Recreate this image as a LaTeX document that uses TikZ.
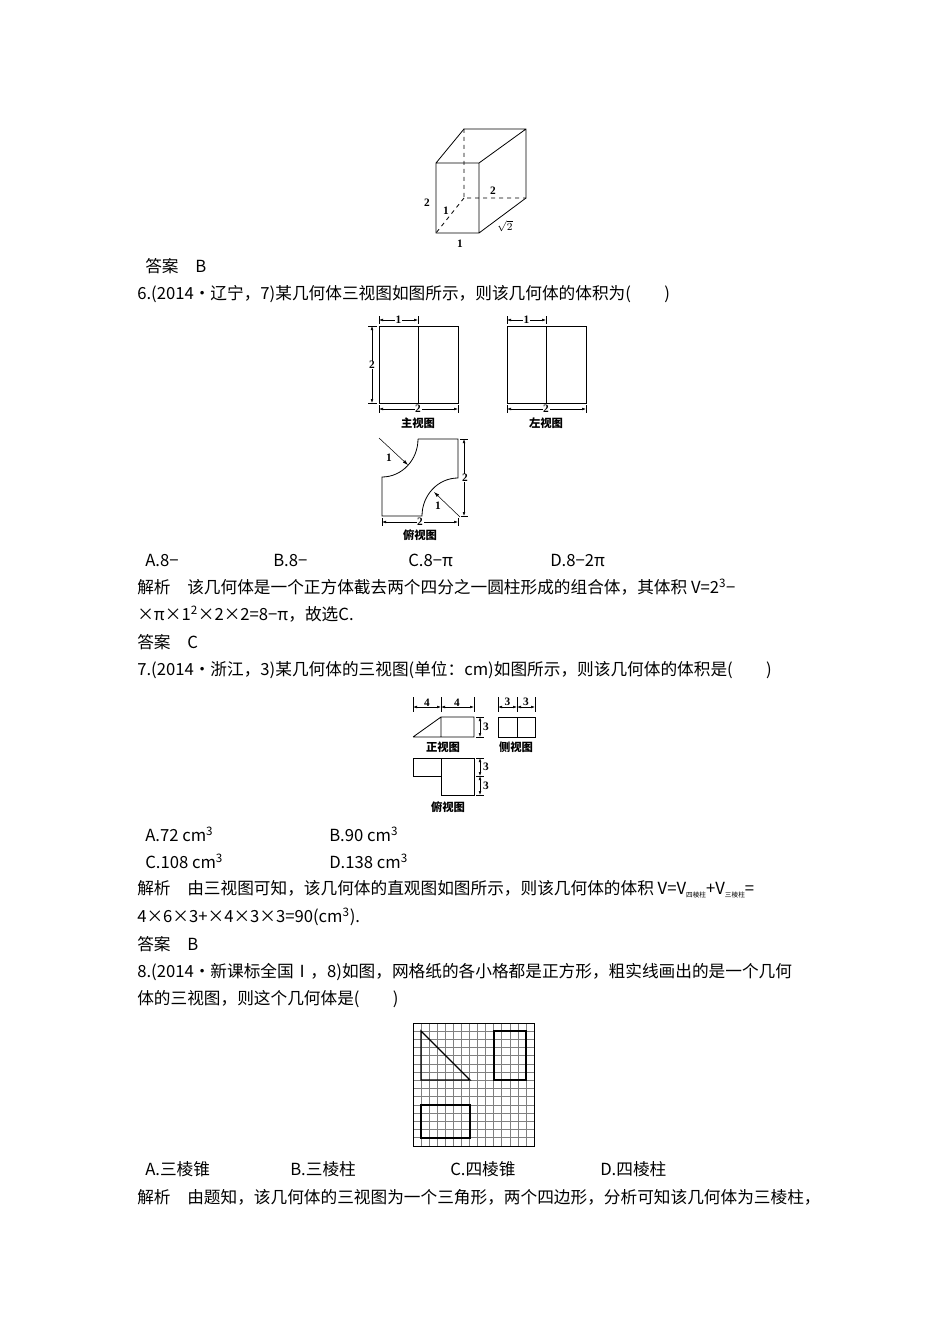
\documentclass[tikz,border=0pt]{standalone}
\usepackage{fontspec}
\setmainfont{Liberation Serif}
\newfontfamily\cjk{Noto Sans CJK SC}
\usetikzlibrary{arrows.meta}
\begin{document}
\begin{tikzpicture}[x=0.75pt,y=-0.75pt,
  txt/.style={anchor=west,inner sep=0pt,font=\cjk\fontsize{12.5}{14}\selectfont},
  lab/.style={inner sep=0.5pt,font=\bfseries\fontsize{8.5}{9}\selectfont},
  capt/.style={inner sep=0pt,font=\cjk\bfseries\fontsize{8.5}{9}\selectfont},
  fig/.style={line width=0.6pt},
  dim/.style={{Latex[length=3pt,width=2pt]}-{Latex[length=3pt,width=2pt]},line width=0.4pt},
  thinln/.style={line width=0.4pt}]
\fill[white] (0,0) rectangle (950,1344);
\useasboundingbox (0,0) rectangle (950,1344);
% box
\coordinate (fa) at (436,163);\coordinate (fb) at (479,163);\coordinate (fc) at (479,233);\coordinate (fd) at (436,233);
\coordinate (ba) at (464,129);\coordinate (bb) at (526,129);\coordinate (bc) at (526,198);\coordinate (bd) at (464,198);
\draw[fig] (fa)--(fb)--(fc)--(fd)--cycle (fa)--(ba)--(bb)--(bc)--(fc) (fb)--(bb);
\draw[fig,dashed] (ba)--(bd)--(bc) (bd)--(fd);
\node[lab] (l1) at (427,203) {2};
\node[lab] (l2) at (446,211) {1};
\node[lab] (l3) at (493,191) {2};
\node[lab] (l4) at (505,226) {$\sqrt{2}$};
\node[lab] (l5) at (460,244) {1};
% texts
\node[txt] (t1) at (145,266) {答案\quad B};
\node[txt] (t2) at (137,294) {6.(2014·辽宁，7)某几何体三视图如图所示，则该几何体的体积为(\qquad)};
% fig6 front
\draw[fig] (379,326) rectangle (458,403) (418,326)--(418,403);
\draw[thinln] (379,316)--(379,324) (418,316)--(418,324) (368,326)--(377,326) (368,403)--(377,403) (379,405)--(379,413) (458,405)--(458,413);
\draw[dim] (379,320)--(418,320);
\node[lab,fill=white] (d1) at (398.5,320) {1};
\draw[dim] (372,326)--(372,403);
\node[lab,fill=white] (d2) at (372,365) {2};
\draw[dim] (379,409)--(458,409);
\node[lab,fill=white] (d3) at (418,409) {2};
\node[capt] (c1) at (418,423) {主视图};
% side
\draw[fig] (507,326) rectangle (586,403) (546,326)--(546,403);
\draw[thinln] (507,316)--(507,324) (546,316)--(546,324) (507,405)--(507,413) (586,405)--(586,413);
\draw[dim] (507,320)--(546,320);
\node[lab,fill=white] (d4) at (526.5,320) {1};
\draw[dim] (507,409)--(586,409);
\node[lab,fill=white] (d5) at (546,409) {2};
\node[capt] (c2) at (546,423) {左视图};
% top view
\draw[fig] (418,439)--(458,439)--(458,478) arc[start angle=90,end angle=180,x radius=36,y radius=-38] -- (382,516)--(382,477) arc[start angle=-90,end angle=0,x radius=36,y radius=-38];
\draw[thinln,-{Latex[length=4pt,width=2.5pt]}] (379,438)--(408,465);
\node[lab] (d6) at (389,458) {1};
\draw[thinln,-{Latex[length=4pt,width=2.5pt]}] (460,517)--(434,492);
\node[lab] (d7) at (438,506) {1};
\draw[thinln] (460,439)--(468,439) (461,516)--(468,516) (382,518)--(382,526) (458,518)--(458,526);
\draw[dim] (464,439)--(464,516);
\node[lab,fill=white] (d8) at (465,478) {2};
\draw[dim] (382,522)--(458,522);
\node[lab,fill=white] (d9) at (420,522) {2};
\node[capt] (c3) at (420,535) {俯视图};
\node[txt] (t3) at (145,560) {A.8−};
\node[txt] (t4) at (273,560) {B.8−};
\node[txt] (t5) at (408,560) {C.8−π};
\node[txt] (t6) at (550,560) {D.8−2π};
\node[txt] (t7) at (137,587) {解析\quad 该几何体是一个正方体截去两个四分之一圆柱形成的组合体，其体积 \textit{V}=2\textsuperscript{3}−};
\node[txt] (t8) at (137,614) {×π×1\textsuperscript{2}×2×2=8−π，故选C.};
\node[txt] (t9) at (137,642) {答案\quad C};
\node[txt] (t10) at (137,670) {7.(2014·浙江，3)某几何体的三视图(单位：cm)如图所示，则该几何体的体积是(\qquad)};
% fig7
\draw[fig] (441,717) rectangle (474,737) (413,737)--(441,717) (413,737)--(441,737);
\draw[thinln] (413,697)--(413,712) (441,697)--(441,712) (474,697)--(474,712) (476,717)--(484,717) (476,737)--(484,737);
\draw[dim] (413,707)--(441,707);\draw[dim] (441,707)--(474,707);
\node[lab,above] (e1) at (427,707) {4};\node[lab,above] (e2) at (457,707) {4};
\draw[dim] (480,717)--(480,737);\node[lab] (e3) at (486,727) {3};
\node[capt] (c4) at (443,747) {正视图};
\draw[fig] (498,717) rectangle (535,737) (517,717)--(517,737);
\draw[thinln] (498,697)--(498,712) (517,697)--(517,712) (535,697)--(535,712);
\draw[dim] (498,707)--(517,707);\draw[dim] (517,707)--(535,707);
\node[lab,above] (e4) at (507.5,707) {3};\node[lab,above] (e5) at (526,707) {3};
\node[capt] (c5) at (516,747) {侧视图};
\draw[fig] (413,758) rectangle (441,776) (441,758) rectangle (474,795);
\draw[thinln] (476,758)--(484,758) (476,776)--(484,776) (476,795)--(484,795);
\draw[dim] (480,758)--(480,776);\draw[dim] (480,776)--(480,795);
\node[lab] (e6) at (486,767) {3};\node[lab] (e7) at (486,786) {3};
\node[capt] (c6) at (448,807) {俯视图};
\node[txt] (t11) at (145,834) {A.72 cm\textsuperscript{3}};
\node[txt] (t12) at (329,834) {B.90 cm\textsuperscript{3}};
\node[txt] (t13) at (145,861) {C.108 cm\textsuperscript{3}};
\node[txt] (t14) at (329,861) {D.138 cm\textsuperscript{3}};
\node[txt] (t15) at (137,889) {解析\quad 由三视图可知，该几何体的直观图如图所示，则该几何体的体积 \textit{V}=\textit{V}\raisebox{-2pt}{\tiny 四棱柱}+\textit{V}\raisebox{-2pt}{\tiny 三棱柱}=};
\node[txt] (t16) at (137,917) {4×6×3+×4×3×3=90(cm\textsuperscript{3}).};
\node[txt] (t17) at (137,944) {答案\quad B};
\node[txt] (t18) at (137,972) {8.(2014·新课标全国Ⅰ，8)如图，网格纸的各小格都是正方形，粗实线画出的是一个几何};
\node[txt] (t19) at (137,999) {体的三视图，则这个几何体是(\qquad)};
% grid
\foreach \i in {0,...,15}{
  \draw[gray,line width=0.5pt] ({413+8.07*\i},1023)--({413+8.07*\i},1146);
  \draw[gray,line width=0.5pt] (413,{1023+8.2*\i})--(534,{1023+8.2*\i});
}
\draw[line width=0.5pt] (413,1023) rectangle (534,1146);
\draw[line width=1pt] (421,1031)--(421,1080)--(470,1080)--cycle;
\draw[line width=1pt] (494,1031) rectangle (526,1080);
\draw[line width=1pt] (421,1105) rectangle (470,1138);
\node[txt] (t20) at (145,1169) {A.三棱锥};
\node[txt] (t21) at (290,1169) {B.三棱柱};
\node[txt] (t22) at (450,1169) {C.四棱锥};
\node[txt] (t23) at (600,1169) {D.四棱柱};
\node[txt] (t24) at (137,1197) {解析\quad 由题知，该几何体的三视图为一个三角形，两个四边形，分析可知该几何体为三棱柱，};
\end{tikzpicture}
\end{document}
